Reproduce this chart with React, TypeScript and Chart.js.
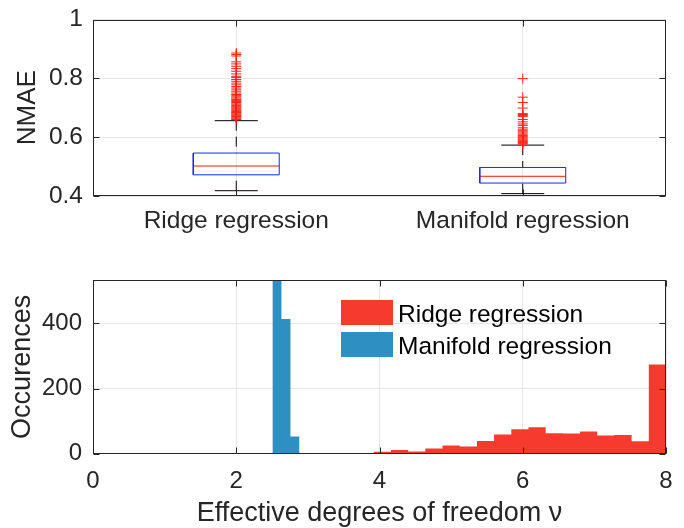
import React, { useEffect, useRef } from 'react';
import { Chart, registerables } from 'chart.js';

Chart.register(...registerables);

// ---------- Data: top panel (box plots of NMAE) ----------
const CATEGORIES = ['Ridge regression', 'Manifold regression'];
const BOX_Q1 = [0.472, 0.444];
const BOX_MEDIAN = [0.502, 0.467];
const BOX_Q3 = [0.546, 0.497];
const WHISKER_LOW = [0.418, 0.408];
const WHISKER_HIGH = [0.656, 0.573];
const OUTLIERS_RIDGE = [
  0.886, 0.881, 0.876, 0.856, 0.849, 0.841, 0.833, 0.824, 0.815, 0.807, 0.803,
  0.796, 0.79, 0.784, 0.778, 0.772, 0.767, 0.761, 0.756, 0.75, 0.745, 0.741,
  0.737, 0.733, 0.729, 0.727, 0.724, 0.721, 0.718, 0.716, 0.712, 0.708, 0.705,
  0.702, 0.699, 0.696, 0.693, 0.69, 0.687, 0.684, 0.682, 0.679, 0.676, 0.673,
  0.67, 0.668, 0.665, 0.662, 0.66,
];
const OUTLIERS_MANIFOLD = [
  0.799, 0.736, 0.718, 0.699, 0.68, 0.677, 0.674, 0.67, 0.66, 0.652, 0.645,
  0.64, 0.632, 0.627, 0.622, 0.618, 0.614, 0.61, 0.606, 0.603, 0.6, 0.597,
  0.594, 0.591, 0.588, 0.585, 0.582, 0.579, 0.576,
];
const TOP_Y_TICKS = [0.4, 0.6, 0.8, 1];

// ---------- Data: bottom panel (histograms of effective dof) ----------
const HIST_X_TICKS = [0, 2, 4, 6, 8];
const HIST_Y_TICKS = [0, 200, 400];
const RIDGE_EDGES = [
  2.0, 2.24, 2.48, 2.72, 2.96, 3.2, 3.44, 3.68, 3.92, 4.16, 4.4, 4.64, 4.88,
  5.12, 5.36, 5.6, 5.84, 6.08, 6.32, 6.56, 6.8, 7.04, 7.28, 7.52, 7.76, 8.0,
];
const RIDGE_COUNTS = [
  1, 1, 0, 1, 1, 0, 2, 2, 6, 11, 7, 16, 25, 22, 39, 59, 75, 81, 63, 62, 68, 56,
  57, 38, 274,
];
const MANIFOLD_EDGES = [2.505, 2.631, 2.757, 2.883];
const MANIFOLD_COUNTS = [533, 413, 53];
const LEGEND_LABELS = ['Ridge regression', 'Manifold regression'];

// ---------- Styles ----------
const FONT = '"Liberation Sans", Arial, Helvetica, sans-serif';
const TEXT = '#262626';
const GRID = '#e6e6e6';
const BOX_BLUE = 'rgb(20,40,255)';
const MED_RED = 'rgb(255,20,10)';
const OUT_RED = 'rgb(255,35,20)';
const HIST_RED = 'rgb(247,58,46)';
const HIST_BLUE = 'rgb(46,143,194)';
const BOX_HALF = 0.15;
const CAP_HALF = 0.075;

const framePlugin = {
  id: 'frame',
  afterDatasetsDraw(chart: any) {
    const { ctx, chartArea, scales } = chart;
    const l = Math.round(chartArea.left) + 0.5;
    const r = Math.round(chartArea.right) - 0.5;
    const t = Math.round(chartArea.top) + 0.5;
    const b = Math.round(chartArea.bottom) - 0.5;
    const tl = 6;
    ctx.save();
    ctx.strokeStyle = TEXT;
    ctx.lineWidth = 1;
    ctx.setLineDash([]);
    ctx.strokeRect(l, t, r - l, b - t);
    ctx.beginPath();
    scales.x.ticks.forEach((tk: any) => {
      const px = Math.round(scales.x.getPixelForValue(tk.value)) + 0.5;
      ctx.moveTo(px, b);
      ctx.lineTo(px, b - tl);
      ctx.moveTo(px, t);
      ctx.lineTo(px, t + tl);
    });
    scales.y.ticks.forEach((tk: any) => {
      const py = Math.round(scales.y.getPixelForValue(tk.value)) + 0.5;
      ctx.moveTo(l, py);
      ctx.lineTo(l + tl, py);
      ctx.moveTo(r, py);
      ctx.lineTo(r - tl, py);
    });
    ctx.stroke();
    ctx.restore();
  },
};

function lineSet(points: { x: number; y: number }[], color: string, dash: number[] = []) {
  return {
    data: points,
    showLine: true,
    borderColor: color,
    backgroundColor: color,
    borderWidth: 1,
    borderDash: dash,
    pointRadius: 0,
    pointHoverRadius: 0,
    fill: false,
  };
}

function histPolygon(edges: number[], counts: number[]) {
  const pts: { x: number; y: number }[] = [];
  counts.forEach((c, i) => {
    pts.push({ x: edges[i], y: 0 }, { x: edges[i], y: c }, { x: edges[i + 1], y: c }, { x: edges[i + 1], y: 0 });
  });
  return pts;
}

export default function App() {
  const topRef = useRef<HTMLCanvasElement>(null);
  const botRef = useRef<HTMLCanvasElement>(null);

  useEffect(() => {
    const datasets: any[] = [];
    CATEGORIES.forEach((_, i) => {
      const x = i + 1;
      datasets.push(
        lineSet(
          [
            { x: x - BOX_HALF, y: BOX_Q1[i] },
            { x: x + BOX_HALF, y: BOX_Q1[i] },
            { x: x + BOX_HALF, y: BOX_Q3[i] },
            { x: x - BOX_HALF, y: BOX_Q3[i] },
            { x: x - BOX_HALF, y: BOX_Q1[i] },
          ],
          BOX_BLUE
        )
      );
      datasets.push(lineSet([{ x: x - BOX_HALF, y: BOX_MEDIAN[i] }, { x: x + BOX_HALF, y: BOX_MEDIAN[i] }], MED_RED));
      datasets.push(lineSet([{ x, y: WHISKER_HIGH[i] }, { x, y: BOX_Q3[i] }], '#000', [10, 6]));
      datasets.push(lineSet([{ x, y: WHISKER_LOW[i] }, { x, y: BOX_Q1[i] }], '#000', [10, 6]));
      datasets.push(lineSet([{ x: x - CAP_HALF, y: WHISKER_HIGH[i] }, { x: x + CAP_HALF, y: WHISKER_HIGH[i] }], '#000'));
      datasets.push(lineSet([{ x: x - CAP_HALF, y: WHISKER_LOW[i] }, { x: x + CAP_HALF, y: WHISKER_LOW[i] }], '#000'));
      const outs = i === 0 ? OUTLIERS_RIDGE : OUTLIERS_MANIFOLD;
      datasets.unshift({
        data: outs.map((v) => ({ x, y: v })),
        showLine: false,
        pointStyle: 'cross',
        pointRadius: 5,
        pointHoverRadius: 5,
        borderColor: OUT_RED,
        backgroundColor: OUT_RED,
        borderWidth: 1,
      });
    });

    const top = new Chart(topRef.current!, {
      type: 'scatter',
      data: { datasets },
      plugins: [framePlugin],
      options: {
        responsive: false,
        animation: false,
        events: [],
        layout: { padding: { top: 19.5, right: 18, left: 0, bottom: 0 } },
        plugins: { legend: { display: false }, tooltip: { enabled: false } },
        scales: {
          x: {
            type: 'linear',
            min: 0.5,
            max: 2.5,
            afterBuildTicks: (s: any) => {
              s.ticks = CATEGORIES.map((_, i) => ({ value: i + 1 }));
            },
            afterFit: (s: any) => {
              s.height = 54;
              s.paddingLeft = 0;
              s.paddingRight = 0;
            },
            ticks: {
              callback: (v: any) => CATEGORIES[Math.round(v) - 1],
              autoSkip: false,
              maxRotation: 0,
              padding: 11,
              color: TEXT,
              font: { family: FONT, size: 24.5 },
            },
            grid: { color: GRID, drawTicks: false },
            border: { display: false },
          },
          y: {
            min: 0.4,
            max: 1,
            afterBuildTicks: (s: any) => {
              s.ticks = TOP_Y_TICKS.map((v) => ({ value: v }));
            },
            afterFit: (s: any) => {
              s.width = 93;
              s.paddingTop = 0;
              s.paddingBottom = 0;
            },
            ticks: {
              callback: (v: any) => String(v),
              padding: 10,
              color: TEXT,
              font: { family: FONT, size: 24.5 },
            },
            title: {
              display: true,
              text: 'NMAE',
              color: TEXT,
              font: { family: FONT, size: 26 },
              padding: { top: 12, bottom: 0 },
            },
            grid: { color: GRID, drawTicks: false },
            border: { display: false },
          },
        },
      } as any,
    });

    const bot = new Chart(botRef.current!, {
      type: 'scatter',
      data: {
        datasets: [
          {
            label: LEGEND_LABELS[1],
            data: histPolygon(MANIFOLD_EDGES, MANIFOLD_COUNTS),
            showLine: true,
            fill: 'origin',
            backgroundColor: HIST_BLUE,
            borderColor: 'transparent',
            borderWidth: 0,
            pointRadius: 0,
          },
          {
            label: LEGEND_LABELS[0],
            data: histPolygon(RIDGE_EDGES, RIDGE_COUNTS),
            showLine: true,
            fill: 'origin',
            backgroundColor: HIST_RED,
            borderColor: 'transparent',
            borderWidth: 0,
            pointRadius: 0,
          },
        ],
      },
      plugins: [framePlugin],
      options: {
        responsive: false,
        animation: false,
        events: [],
        layout: { padding: { top: 20, right: 18, left: 0, bottom: 0 } },
        plugins: { legend: { display: false }, tooltip: { enabled: false } },
        scales: {
          x: {
            type: 'linear',
            min: HIST_X_TICKS[0],
            max: HIST_X_TICKS[HIST_X_TICKS.length - 1],
            afterBuildTicks: (s: any) => {
              s.ticks = HIST_X_TICKS.map((v) => ({ value: v }));
            },
            afterFit: (s: any) => {
              s.height = 74.3;
              s.paddingLeft = 0;
              s.paddingRight = 0;
            },
            ticks: {
              callback: (v: any) => String(v),
              autoSkip: false,
              maxRotation: 0,
              padding: 13,
              color: TEXT,
              font: { family: FONT, size: 24 },
            },
            title: {
              display: true,
              text: 'Effective degrees of freedom ν',
              color: TEXT,
              font: { family: FONT, size: 27, lineHeight: 1.1 },
              padding: { top: 0, bottom: 0 },
            },
            grid: { color: GRID, drawTicks: false },
            border: { display: false },
          },
          y: {
            min: 0,
            max: 533,
            afterBuildTicks: (s: any) => {
              s.ticks = HIST_Y_TICKS.map((v) => ({ value: v }));
            },
            afterFit: (s: any) => {
              s.width = 93;
              s.paddingTop = 0;
              s.paddingBottom = 0;
            },
            ticks: {
              callback: (v: any) => String(v),
              padding: 11,
              color: TEXT,
              font: { family: FONT, size: 24 },
            },
            title: {
              display: true,
              text: 'Occurences',
              color: TEXT,
              font: { family: FONT, size: 27 },
              padding: { top: 6, bottom: 0 },
            },
            grid: { color: GRID, drawTicks: false },
            border: { display: false },
          },
        },
      } as any,
    });

    return () => {
      top.destroy();
      bot.destroy();
    };
  }, []);

  const legendText: React.CSSProperties = {
    position: 'absolute',
    left: 398,
    fontFamily: FONT,
    fontSize: 24.5,
    color: '#000',
    height: 25,
    lineHeight: '25px',
    whiteSpace: 'nowrap',
  };

  return (
    <div style={{ position: 'fixed', left: 0, top: 0, width: 684, height: 528, background: '#fff' }}>
      <canvas ref={topRef} width={684} height={250} style={{ position: 'absolute', left: 0, top: 0 }} />
      <canvas ref={botRef} width={684} height={268} style={{ position: 'absolute', left: 0, top: 260 }} />
      <div style={{ position: 'absolute', left: 341, top: 300, width: 52, height: 24.5, background: HIST_RED }} />
      <div style={{ position: 'absolute', left: 341, top: 332.3, width: 52, height: 24.5, background: HIST_BLUE }} />
      <div style={{ ...legendText, top: 300.5 }}>{LEGEND_LABELS[0]}</div>
      <div style={{ ...legendText, top: 332.5 }}>{LEGEND_LABELS[1]}</div>
    </div>
  );
}
